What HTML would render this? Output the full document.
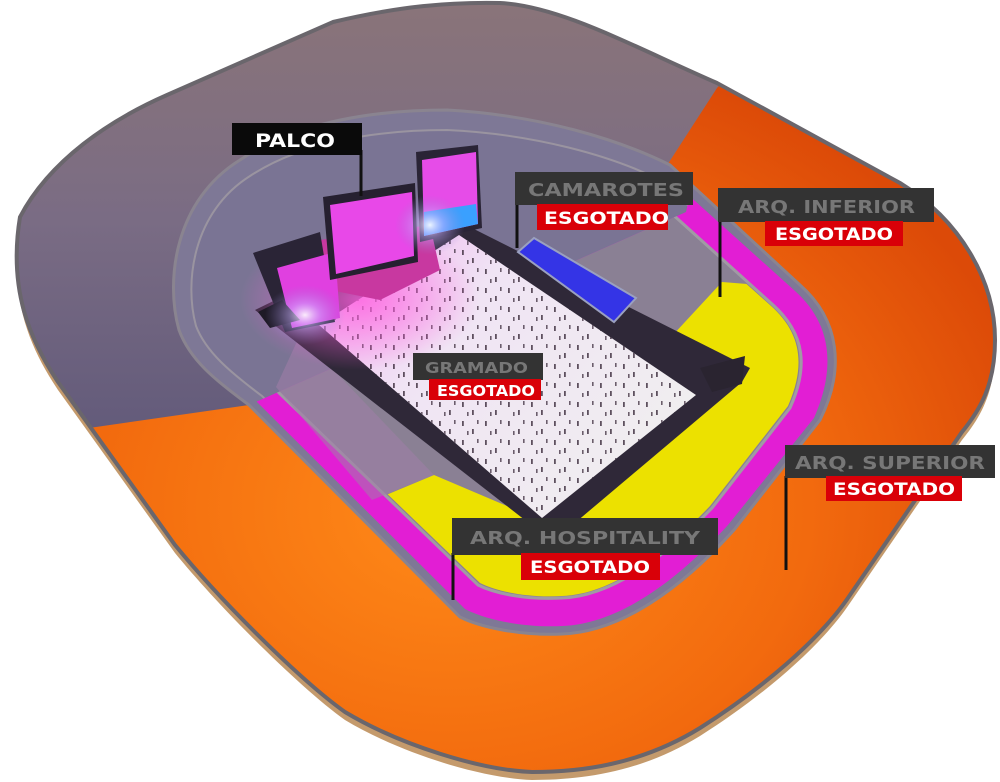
<!DOCTYPE html>
<html><head><meta charset="utf-8"><style>
html,body{margin:0;padding:0;background:#fff;}
svg{display:block;}
text{font-family:"DejaVu Sans","Liberation Sans",sans-serif;font-weight:bold;}
</style></head><body>
<svg width="1000" height="782" viewBox="0 0 1000 782" xmlns="http://www.w3.org/2000/svg">
<defs>
<radialGradient id="og" cx="0.45" cy="0.65" r="0.6">
<stop offset="0" stop-color="#ff8a18"/><stop offset="0.6" stop-color="#f26a0e"/><stop offset="1" stop-color="#dc4a08"/>
</radialGradient>
<linearGradient id="gg" x1="0" y1="0" x2="0" y2="1">
<stop offset="0" stop-color="#8a7479"/><stop offset="0.5" stop-color="#7a6c84"/><stop offset="1" stop-color="#625a7a"/>
</linearGradient>
<linearGradient id="fg" x1="0" y1="0" x2="1" y2="0.6">
<stop offset="0" stop-color="#f4a8f0"/><stop offset="0.4" stop-color="#f0e4f4"/><stop offset="1" stop-color="#f0eef0"/>
</linearGradient>
<radialGradient id="glow" cx="0.5" cy="0.5" r="0.5">
<stop offset="0" stop-color="#ffffff" stop-opacity="0.9"/><stop offset="0.4" stop-color="#c9b0ff" stop-opacity="0.5"/><stop offset="1" stop-color="#9080d0" stop-opacity="0"/>
</radialGradient>
<radialGradient id="pglow" cx="0.5" cy="0.5" r="0.5">
<stop offset="0" stop-color="#ff60e0" stop-opacity="0.8"/><stop offset="1" stop-color="#ff60e0" stop-opacity="0"/>
</radialGradient>
<pattern id="crowd" width="23" height="19" patternUnits="userSpaceOnUse">
<rect x="2" y="3" width="1.8" height="5" fill="#3a2a3a"/><rect x="12" y="11" width="1.8" height="5" fill="#3a2a3a"/><rect x="17" y="2" width="1.6" height="4" fill="#4a3a4a"/><rect x="7" y="13" width="1.6" height="4" fill="#4a3a4a"/>
</pattern>
<path id="outer" d="M20,217 C50,160 110,120 167,95 L333,22 C400,6 450,2 500,3 C560,6 630,45 717,83 L900,183 C960,220 995,280 995,340 C995,385 980,410 962,432 L850,595 C820,640 760,690 700,728 C640,765 580,772 532,772 C480,770 400,745 345,712 C300,680 220,600 175,545 L58,382 C30,340 8,290 20,217 Z"/>
<clipPath id="stad"><use href="#outer"/></clipPath>
<clipPath id="magc"><polygon points="249,405 150,430 500,720 950,500 950,150 700,150 686,212"/></clipPath>
<clipPath id="yelc"><polygon points="362,505 434,475 540,520 705,378 672,336 722,282 950,300 950,720 300,720"/></clipPath>
</defs>
<use href="#outer" transform="translate(0,8)" fill="#c49a6c"/>
<g clip-path="url(#stad)">
<rect width="1000" height="782" fill="url(#og)"/>
<polygon points="0,0 800,0 717,88 664,170 249,405 96,427 0,440" fill="url(#gg)"/>
</g>
<use href="#outer" fill="none" stroke="#6a666c" stroke-width="4"/>
<!-- bowl -->
<path d="M179,330 C165,280 175,200 240,160 C300,120 380,110 447,110 C540,115 620,140 670,165 L800,285 C840,320 845,370 820,420 L734,530 C680,590 620,632 562,634 C520,636 480,627 460,617 L249,405 C215,380 190,360 179,330 Z" fill="#7e7896" stroke="#8a8490" stroke-width="3"/>
<path d="M196,326 C184,282 193,212 250,176 C305,140 382,130 447,130 C535,134 612,156 660,180 L788,296 C824,328 828,368 806,414 L722,520 C672,574 616,614 562,616 C524,618 488,610 470,601 L262,396 C230,372 206,352 196,326 Z" fill="#7a7494" stroke="#9a94a0" stroke-width="2"/>
<g clip-path="url(#magc)">
<path d="M190,328 C178,282 188,206 246,170 C303,134 382,122 447,122 C538,126 616,150 665,174 L795,291 C832,324 836,368 814,418 L728,525 C676,582 618,624 562,626 C522,628 484,619 465,609 L255,400 C222,376 198,356 190,328 Z" fill="#e21ed4"/>
<path d="M212,324 C202,284 210,222 258,190 C308,156 385,146 447,146 C530,150 604,170 650,194 L772,304 C806,334 808,368 790,408 L712,508 C664,558 612,596 562,598 C528,600 496,594 478,585 L274,388 C242,366 220,346 212,324 Z" fill="#8a8094" stroke="#a09aa4" stroke-width="3"/>
</g>
<g clip-path="url(#yelc)">
<path d="M214,324 C204,284 212,224 260,192 C310,158 386,148 447,148 C530,152 602,172 648,196 L770,305 C803,334 805,367 788,406 L710,506 C662,556 612,594 562,596 C529,598 498,592 480,583 L276,387 C244,365 222,346 214,324 Z" fill="#ece100"/>
</g>
<polygon points="276,387 300,335 434,475 372,500" fill="#a07ea8" opacity="0.55"/>
<!-- dark band and field -->
<polygon points="255,310 300,288 460,222 750,368 742,382 576,522 530,524" fill="#2f2838"/>
<polygon points="319,325 459,235 696,395 542,518" fill="url(#fg)"/>
<polygon points="319,325 459,235 696,395 542,518" fill="url(#crowd)" opacity="0.8"/>
<polygon points="700,368 745,356 742,384 712,392" fill="#2a2430"/>
<!-- stage -->
<ellipse cx="360" cy="300" rx="120" ry="70" fill="url(#pglow)"/>
<polygon points="320,240 430,225 440,270 380,300 330,290" fill="#c838a0"/>
<polygon points="253,253 320,232 335,322 285,332" fill="#2a2436"/>
<polygon points="277,268 335,252 340,318 292,328" fill="#e040e0"/>
<polygon points="323,197 415,183 418,262 330,280" fill="#262030"/>
<polygon points="330,205 412,192 414,256 336,274" fill="#e848e8"/>
<polygon points="416,152 478,145 482,228 420,242" fill="#2a2436"/>
<polygon points="422,160 476,152 478,224 424,236" fill="#e64ce8"/>
<polygon points="424,212 476,204 478,224 424,236" fill="#3aa0ff"/>
<polygon points="258,312 282,300 300,320 270,328" fill="#1e1a26"/>
<ellipse cx="305" cy="315" rx="40" ry="30" fill="url(#glow)"/>
<ellipse cx="430" cy="225" rx="35" ry="30" fill="url(#glow)"/>
<polygon points="518,252 534,238 636,298 614,322" fill="#3434e6" stroke="#9aa0c0" stroke-width="2"/>
<g stroke="#111" stroke-width="3">
<line x1="361" y1="150" x2="361" y2="196"/>
<line x1="517" y1="205" x2="517" y2="248"/>
<line x1="720" y1="220" x2="720" y2="297"/>
<line x1="786" y1="476" x2="786" y2="570"/>
<line x1="453" y1="553" x2="453" y2="600"/>
</g>
<rect x="232" y="123" width="130" height="32" fill="#0a0a0a"/>
<text x="255" y="147" font-size="19" fill="#fff" textLength="80" lengthAdjust="spacingAndGlyphs">PALCO</text>

<rect x="515" y="172" width="178" height="33" fill="#333"/>
<text x="528" y="196" font-size="18" fill="#777" textLength="156" lengthAdjust="spacingAndGlyphs">CAMAROTES</text>
<rect x="537" y="204" width="131" height="26" fill="#d90008"/>
<text x="544" y="224" font-size="17" fill="#fff" textLength="125" lengthAdjust="spacingAndGlyphs">ESGOTADO</text>

<rect x="718" y="188" width="216" height="34" fill="#333"/>
<text x="738" y="213" font-size="18" fill="#777" textLength="177" lengthAdjust="spacingAndGlyphs">ARQ. INFERIOR</text>
<rect x="765" y="221" width="138" height="25" fill="#d90008"/>
<text x="775" y="240" font-size="17" fill="#fff" textLength="118" lengthAdjust="spacingAndGlyphs">ESGOTADO</text>

<rect x="413" y="353" width="130" height="27" fill="#333"/>
<text x="425" y="373" font-size="15" fill="#777" textLength="103" lengthAdjust="spacingAndGlyphs">GRAMADO</text>
<rect x="429" y="379" width="112" height="21" fill="#d90008"/>
<text x="437" y="396" font-size="15" fill="#fff" textLength="98" lengthAdjust="spacingAndGlyphs">ESGOTADO</text>

<rect x="785" y="445" width="210" height="33" fill="#333"/>
<text x="795" y="469" font-size="18" fill="#777" textLength="190" lengthAdjust="spacingAndGlyphs">ARQ. SUPERIOR</text>
<rect x="826" y="476" width="136" height="25" fill="#d90008"/>
<text x="833" y="495" font-size="17" fill="#fff" textLength="122" lengthAdjust="spacingAndGlyphs">ESGOTADO</text>

<rect x="452" y="518" width="266" height="37" fill="#333"/>
<text x="470" y="544" font-size="18" fill="#777" textLength="230" lengthAdjust="spacingAndGlyphs">ARQ. HOSPITALITY</text>
<rect x="521" y="553" width="139" height="27" fill="#d90008"/>
<text x="530" y="573" font-size="17" fill="#fff" textLength="120" lengthAdjust="spacingAndGlyphs">ESGOTADO</text>
</svg>
</body></html>
